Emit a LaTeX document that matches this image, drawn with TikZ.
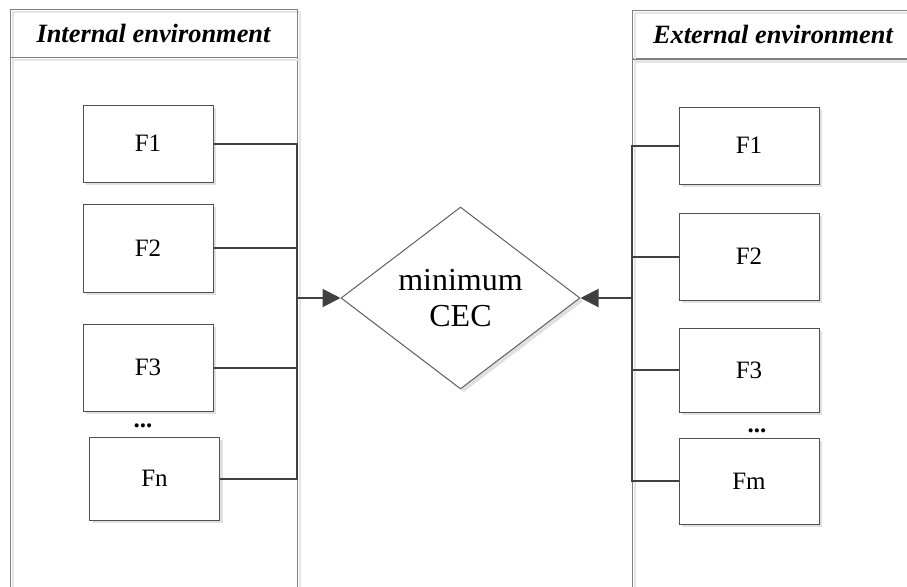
\documentclass[tikz,border=0pt]{standalone}
\usepackage{fontspec}
\setmainfont{Liberation Serif}
\usepackage{xcolor}
\usetikzlibrary{
	arrows.meta,shapes.geometric,shadows
}

\definecolor{boxline}{HTML}{505050}
\definecolor{panelline}{HTML}{808080}
\definecolor{connline}{HTML}{404040}

\tikzset{
	factor/.style={draw=boxline, line width=0.5pt, fill=white, inner sep=0pt,
		font=\fontsize{12.5}{14}\selectfont,
		drop shadow={shadow xshift=1.6pt, shadow yshift=-1.6pt, fill=black!12, opacity=1}},
	panel/.style={draw=panelline, line width=0.5pt, inner sep=0pt,
		preaction={draw=black!10, line width=1pt, transform canvas={shift={(1.5pt,-1.5pt)}}}},
	header/.style={panel, font=\fontsize{13.2}{15}\bfseries\itshape\selectfont},
	dots/.style={inner sep=0pt, font=\fontsize{12.5}{14}\bfseries\selectfont}
}

\begin{document}
\begin{tikzpicture}[x=0.5pt,y=-0.5pt]
		\useasboundingbox (0,0) rectangle (907,586);
		% panels
		\node[panel, minimum width=143.5pt, minimum height=271.5pt] (bodyL) at (153.5,328.5) {};
		\node[panel, minimum width=141pt, minimum height=271.5pt] (bodyR) at (773,329.5) {};
		\node[header, minimum width=143.5pt, minimum height=24pt] (headL) at (153.5,33) {Internal environment};
		\node[header, minimum width=141pt, minimum height=24.5pt] (headR) at (773,34.5) {External environment};
		%
		\node[factor, minimum width=65pt, minimum height=38.5pt] (F1L) at (148,143.5) {F1};
		\node[factor, minimum width=65pt, minimum height=44pt] (F2L) at (148,248) {F2};
		\node[factor, minimum width=65pt, minimum height=43.5pt] (F3L) at (148,367.5) {F3};
		\node[dots] (dotsL) at (143,426) {...};
		\node[factor, minimum width=65pt, minimum height=41.5pt] (FnL) at (154.5,478.5) {Fn};
		%
		\node[factor, minimum width=70pt, minimum height=38.5pt] (F1R) at (749,145.5) {F1};
		\node[factor, minimum width=70pt, minimum height=43.5pt] (F2R) at (749,256.5) {F2};
		\node[factor, minimum width=70pt, minimum height=42pt] (F3R) at (749,370) {F3};
		\node[dots] (dotsR) at (757,431) {...};
		\node[factor, minimum width=70pt, minimum height=43pt] (FmR) at (749,481) {Fm};
		%
		\node[factor, diamond, draw=boxline!90, minimum width=119.5pt, minimum height=89.5pt,
			align=center, font=\fontsize{16}{18}\selectfont] (cec) at (460.5,298) {minimum\\CEC};
		\coordinate (busL) at (297,298);
		\coordinate (busR) at (632,298);
		%
		\path[draw=connline, line width=1pt]
		% left bus
		(F1L.east) -| (busL)
		(F2L.east) -| (busL)
		(F3L.east) -| (busL)
		(FnL.east) -| (busL)
		% right bus
		(F1R.west) -| (busR)
		(F2R.west) -| (busR)
		(F3R.west) -| (busR)
		(FmR.west) -| (busR);
		%
		\path[->, color=connline, line width=1pt, >={Triangle[length=9pt,width=9pt]}]
		(busL) edge (cec.west)
		(busR) edge (cec.east);
	\end{tikzpicture}
\end{document}
